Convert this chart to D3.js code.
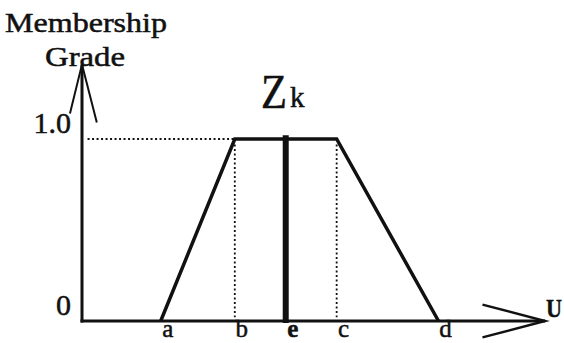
<!DOCTYPE html>
<html>
<head>
<meta charset="utf-8">
<script src="https://cdn.jsdelivr.net/npm/d3@7"></script>
<style>
  body { margin: 0; background: #fff; }
  svg text { font-family: "Liberation Serif", "DejaVu Serif", serif; fill: #111; stroke: #111; stroke-width: 0.5; }
</style>
</head>
<body>
<div id="chart"></div>
<script>
// points on the universe of discourse U
const uLabels = ["a", "b", "e", "c", "d"];
const uValues = [17, 33, 44, 55, 77];

// trapezoid membership function Zk: (u, grade)
const zkU = [17, 33, 55, 77];
const zkGrade = [0, 1, 1, 0];

// crisp value e
const eValue = 44;
const eGrade = 1.02;

const yTickValues = [0, 1];
const yTickLabels = ["0", "1.0"];

const width = 564, height = 343;

const svg = d3.select("#chart").append("svg")
    .attr("width", width)
    .attr("height", height);

const x = d3.scaleLinear().domain([0, 100]).range([82, 545]);
const y = d3.scaleLinear().domain([0, 1]).range([321, 139]);

const ink = "#111";

// guide lines (dotted)
svg.append("line")
    .attr("x1", x(1.2)).attr("x2", x(zkU[1]))
    .attr("y1", y(1)).attr("y2", y(1))
    .attr("stroke", ink).attr("stroke-width", 2)
    .attr("stroke-dasharray", "2,2.5");

svg.append("g").selectAll("line")
    .data([zkU[1], zkU[2]])
    .join("line")
    .attr("x1", d => x(d)).attr("x2", d => x(d))
    .attr("y1", y(0.97)).attr("y2", y(0.02))
    .attr("stroke", ink).attr("stroke-width", 1.8)
    .attr("stroke-dasharray", "2,2.5");

// axes
svg.append("line")
    .attr("x1", x(0)).attr("x2", x(0))
    .attr("y1", y(0) + 1.5).attr("y2", y(1.41))
    .attr("stroke", ink).attr("stroke-width", 3);

svg.append("line")
    .attr("x1", x(0) - 1.5).attr("x2", x(100))
    .attr("y1", y(0)).attr("y2", y(0))
    .attr("stroke", ink).attr("stroke-width", 3);

// arrow heads
const arrow = d3.line();
svg.append("path")
    .attr("d", arrow([[x(-2.6), y(1.14)], [x(0), y(1.41)], [x(3.2), y(1.09)]]))
    .attr("fill", "none").attr("stroke", ink).attr("stroke-width", 2);

svg.append("path")
    .attr("d", arrow([[x(86.5), y(0.09)], [x(100), y(0)], [x(86.5), y(-0.09)]]))
    .attr("fill", "none").attr("stroke", ink).attr("stroke-width", 2.5);

// membership function
svg.append("path")
    .datum(d3.zip(zkU, zkGrade))
    .attr("d", d3.line().x(d => x(d[0])).y(d => y(d[1])))
    .attr("fill", "none")
    .attr("stroke", ink)
    .attr("stroke-width", 3.5)
    .attr("stroke-linejoin", "miter");

// crisp value e
svg.append("line")
    .attr("x1", x(eValue)).attr("x2", x(eValue))
    .attr("y1", y(0) + 2).attr("y2", y(eGrade))
    .attr("stroke", ink).attr("stroke-width", 6);

// x tick labels
svg.append("g").selectAll("text")
    .data(uLabels)
    .join("text")
    .attr("x", (d, i) => x(uValues[i]) + 7)
    .attr("y", 337)
    .attr("text-anchor", "middle")
    .attr("font-size", 25)
    .attr("font-weight", d => d === "e" ? "bold" : "normal")
    .text(d => d);

// y tick labels
svg.append("g").selectAll("text")
    .data(yTickLabels)
    .join("text")
    .attr("x", x(0) - 11)
    .attr("y", (d, i) => y(yTickValues[i]) - 6)
    .attr("text-anchor", "end")
    .attr("font-size", 30)
    .text(d => d);

// axis titles
svg.append("text")
    .attr("x", 5).attr("y", 32)
    .attr("font-size", 28)
    .attr("textLength", 162)
    .attr("lengthAdjust", "spacingAndGlyphs")
    .text("Membership");

svg.append("text")
    .attr("x", 45).attr("y", 66)
    .attr("font-size", 28)
    .attr("textLength", 80)
    .attr("lengthAdjust", "spacingAndGlyphs")
    .text("Grade");

svg.append("text")
    .attr("x", x(100) + 1).attr("y", y(0) - 4)
    .attr("font-size", 26)
    .attr("font-weight", "bold")
    .attr("textLength", 16)
    .attr("lengthAdjust", "spacingAndGlyphs")
    .text("U");

// Zk label
svg.append("text")
    .attr("x", 261).attr("y", 108)
    .attr("font-size", 48)
    .attr("textLength", 26)
    .attr("lengthAdjust", "spacingAndGlyphs")
    .text("Z");
svg.append("text")
    .attr("x", 290).attr("y", 107)
    .attr("font-size", 29)
    .text("k");
</script>
</body>
</html>
